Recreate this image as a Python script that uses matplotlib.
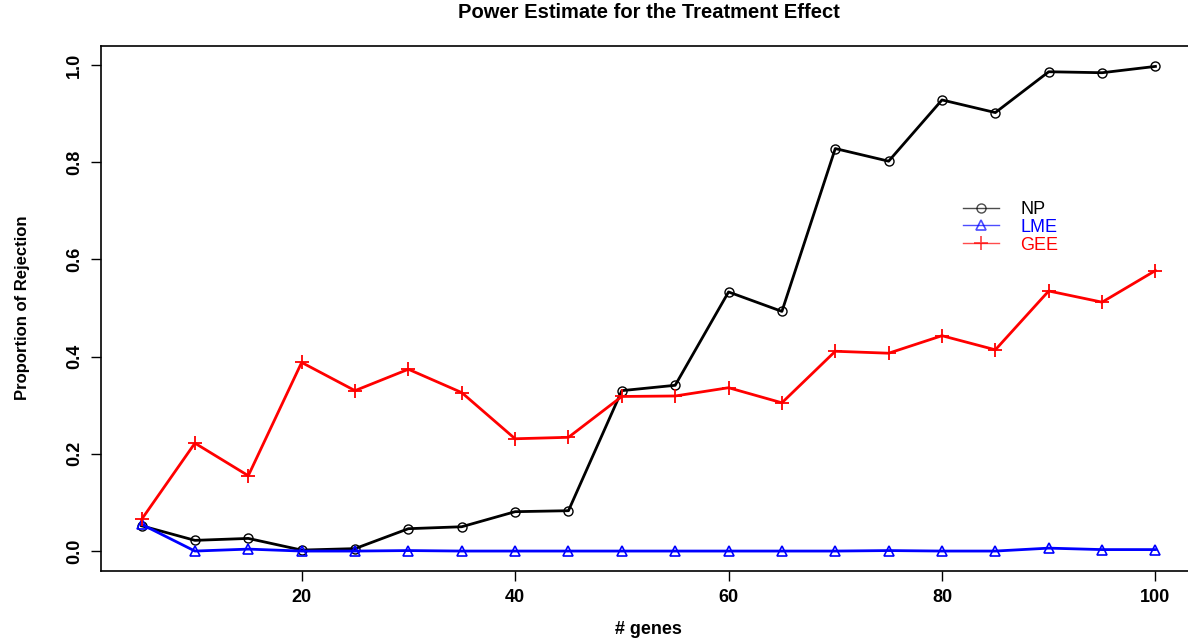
import matplotlib.pyplot as plt

# number of genes per simulation setting
genes = [5, 10, 15, 20, 25, 30, 35, 40, 45, 50, 55, 60, 65, 70, 75, 80, 85, 90, 95, 100]

# proportion of rejections for each method
np_power = [0.052, 0.022, 0.026, 0.002, 0.005, 0.046, 0.050, 0.081, 0.083, 0.330,
            0.341, 0.533, 0.493, 0.828, 0.802, 0.928, 0.902, 0.986, 0.984, 0.997]
lme_power = [0.055, 0.000, 0.004, 0.000, 0.000, 0.001, 0.000, 0.000, 0.000, 0.000,
             0.000, 0.000, 0.000, 0.000, 0.001, 0.000, 0.000, 0.006, 0.003, 0.003]
gee_power = [0.065, 0.222, 0.155, 0.388, 0.330, 0.374, 0.326, 0.231, 0.234, 0.318,
             0.319, 0.336, 0.305, 0.411, 0.407, 0.443, 0.414, 0.535, 0.512, 0.577]

plt.rcParams['font.family'] = ['Liberation Sans', 'DejaVu Sans']

fig = plt.figure(figsize=(11.88, 6.41), dpi=100)
ax = fig.add_axes([101 / 1188, 1 - 570.5 / 641, 1095 / 1188, 525 / 641])

ax.plot(genes, np_power, color='black', lw=2, marker='o', ms=6.5, mfc='none', mew=1, label='NP')
ax.plot(genes, lme_power, color='blue', lw=2, marker='^', ms=7.5, mfc='none', mew=1.2, label='LME')
ax.plot(genes, gee_power, color='red', lw=2, marker='+', ms=10, mew=1.3, label='GEE')

ax.set_xlim(1.2, 103.8)
ax.set_ylim(-0.04, 1.04)
ax.set_xticks([20, 40, 60, 80, 100])
ax.set_yticks([0.0, 0.2, 0.4, 0.6, 0.8, 1.0])
ax.set_yticklabels(['0.0', '0.2', '0.4', '0.6', '0.8', '1.0'], rotation=90, va='center')
ax.tick_params(direction='out', length=7, width=1, labelsize=13, pad=6)
for lab in ax.get_xticklabels() + ax.get_yticklabels():
    lab.set_fontweight('bold')
for s in ax.spines.values():
    s.set_linewidth(1.2)

ax.set_xlabel('# genes', fontsize=13, fontweight='bold', labelpad=11)
ax.set_ylabel('Proportion of Rejection', fontsize=12, fontweight='bold', labelpad=26)
fig.text(0.5 * (101 + 1196) / 1188, 1 - 13 / 641, 'Power Estimate for the Treatment Effect',
         ha='center', va='center', fontsize=14.5, fontweight='bold')

leg = ax.legend(loc='upper left', bbox_to_anchor=(0.772, 0.735), frameon=False,
                prop={'size': 13}, handlelength=2.0, handletextpad=1.2, labelspacing=0.05)
for txt, c in zip(leg.get_texts(), ['black', 'blue', 'red']):
    txt.set_color(c)
for h in leg.legend_handles:
    h.set_linewidth(1)
    h.set_alpha(0.7)

fig.savefig('out.png', dpi=100)
